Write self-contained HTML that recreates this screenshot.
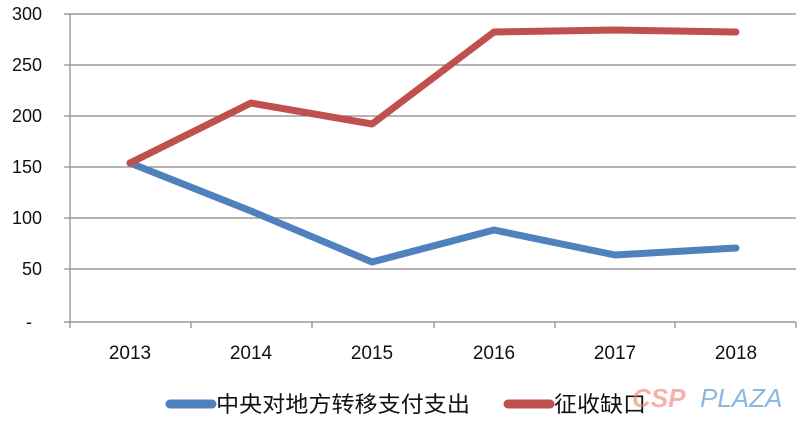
<!DOCTYPE html>
<html><head><meta charset="utf-8"><style>
body{margin:0;background:#fff;}
</style></head><body>
<svg width="808" height="426" xmlns="http://www.w3.org/2000/svg" font-family="Liberation Sans, Noto Sans CJK SC, sans-serif">
<g stroke="#888" stroke-width="1.2">
<line x1="70" y1="14" x2="796" y2="14"/>
<line x1="70" y1="65" x2="796" y2="65"/>
<line x1="70" y1="116" x2="796" y2="116"/>
<line x1="70" y1="167" x2="796" y2="167"/>
<line x1="70" y1="218" x2="796" y2="218"/>
<line x1="70" y1="269" x2="796" y2="269"/>
<line x1="70" y1="14" x2="70" y2="322"/>
<line x1="64" y1="322" x2="796" y2="322"/>
<line x1="64" y1="14" x2="70" y2="14"/><line x1="64" y1="65" x2="70" y2="65"/><line x1="64" y1="116" x2="70" y2="116"/><line x1="64" y1="167" x2="70" y2="167"/><line x1="64" y1="218" x2="70" y2="218"/><line x1="64" y1="269" x2="70" y2="269"/>
<line x1="70" y1="322" x2="70" y2="328"/><line x1="191" y1="322" x2="191" y2="328"/><line x1="312" y1="322" x2="312" y2="328"/><line x1="434" y1="322" x2="434" y2="328"/><line x1="555" y1="322" x2="555" y2="328"/><line x1="675" y1="322" x2="675" y2="328"/><line x1="796" y1="322" x2="796" y2="328"/>
</g>
<g font-size="18" fill="#111" text-anchor="end">
<text x="42" y="20">300</text><text x="42" y="71">250</text><text x="42" y="122">200</text><text x="42" y="173">150</text><text x="42" y="224">100</text><text x="42" y="275">50</text><text x="32" y="328">-</text>
</g>
<g font-size="19" fill="#111" text-anchor="middle">
<text x="130" y="359">2013</text><text x="251" y="359">2014</text><text x="372" y="359">2015</text><text x="494" y="359">2016</text><text x="615" y="359">2017</text><text x="736" y="359">2018</text>
</g>
<polyline fill="none" stroke="#4f81bd" stroke-width="7" stroke-linejoin="round" stroke-linecap="round" points="130,163 251,211 372,262 494,230 615,255 736,248"/>
<polyline fill="none" stroke="#c0504d" stroke-width="7" stroke-linejoin="round" stroke-linecap="round" points="130,163 251,103 372,124 494,32 615,30 736,32"/>
<line x1="170" y1="404" x2="212" y2="404" stroke="#4f81bd" stroke-width="9" stroke-linecap="round"/>
<text x="216" y="412" font-size="22" fill="#111" textLength="254" lengthAdjust="spacingAndGlyphs">中央对地方转移支付支出</text>
<line x1="508" y1="404" x2="550" y2="404" stroke="#c0504d" stroke-width="9" stroke-linecap="round"/>
<text x="554" y="412" font-size="22" fill="#111" textLength="92" lengthAdjust="spacingAndGlyphs">征收缺口</text>
<text x="632" y="407" font-size="26" font-weight="bold" font-style="italic" fill="#f08070" opacity="0.6">CSP</text>
<text x="700" y="407" font-size="26" font-style="italic" fill="#5b9bd5" opacity="0.7">PLAZA</text>
</svg>
</body></html>
